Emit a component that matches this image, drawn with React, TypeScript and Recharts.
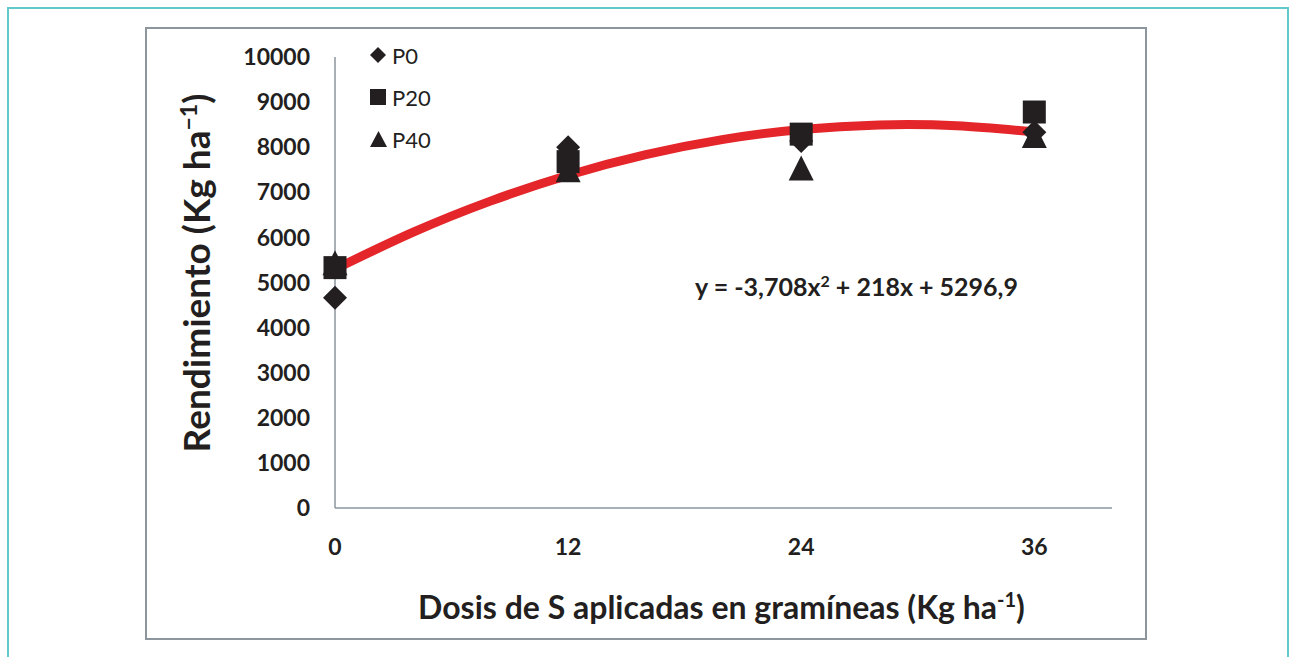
import { Legend, Scatter, ScatterChart, XAxis, YAxis, Label } from "recharts"

// dosis de S (kg/ha)
const doses = [0, 12, 24, 36]
const p0Values = [4660, 8000, 8140, 8330]
const p20Values = [5330, 7680, 8290, 8780]
const p40Values = [5440, 7500, 7540, 8260]

// polynomial trend line
const trendX = [0, 4, 8, 12, 16, 20, 24, 28, 32, 36]
const trendY = [5297, 6110, 6804, 7379, 7836, 8174, 8393, 8494, 8476, 8339]

const yTicks = [0, 1000, 2000, 3000, 4000, 5000, 6000, 7000, 8000, 9000, 10000]
const xTicks = [0, 12, 24, 36]

const seriesNames = ["P0", "P20", "P40"]

const INK = "#231f20"
const RED = "#e4262b"
const AXIS = "#8d969c"
const FONT = "Lato, 'Open Sans', sans-serif"

const toPoints = (vals: number[]) => doses.map((d, i) => ({ x: d, y: vals[i] }))
const trendData = trendX.map((x, i) => ({ x, y: trendY[i] }))

const Diamond = (props: any) => {
  const { cx, cy } = props
  const r = 12
  return <path d={`M${cx},${cy - r}L${cx + r},${cy}L${cx},${cy + r}L${cx - r},${cy}Z`} fill={INK} />
}
const Square = (props: any) => {
  const { cx, cy } = props
  const s = 11.5
  return <rect x={cx - s} y={cy - s} width={s * 2} height={s * 2} fill={INK} />
}
const Triangle = (props: any) => {
  const { cx, cy } = props
  const r = 12.5
  return <path d={`M${cx},${cy - r}L${cx + r},${cy + r}L${cx - r},${cy + r}Z`} fill={INK} />
}
const NoDot = () => <g />

const legendMarker = (name: string) => {
  if (name === "P0") return <path d="M8,0L16,8L8,16L0,8Z" fill={INK} />
  if (name === "P20") return <rect x={0} y={0} width={16} height={16} fill={INK} />
  return <path d="M8.5,0L17,16L0,16Z" fill={INK} />
}

const renderLegend = () => (
  <div style={{ fontFamily: FONT, fontSize: 22, color: INK }}>
    {seriesNames.map((n) => (
      <div key={n} style={{ display: "flex", alignItems: "center", height: 42 }}>
        <svg width={18} height={17} style={{ marginRight: 4 }}>
          {legendMarker(n)}
        </svg>
        <span>{n}</span>
      </div>
    ))}
  </div>
)

const XTitle = (props: any) => {
  const { viewBox } = props
  const cx = viewBox.x + viewBox.width / 2
  return (
    <text x={cx - 2} y={619} textAnchor="middle" fontFamily={FONT} fontWeight="bold" fontSize={32} fill={INK}>
      Dosis de S aplicadas en gramíneas (Kg ha
      <tspan dy={-12} fontSize={20}>-1</tspan>
      <tspan dy={12}>)</tspan>
    </text>
  )
}

const YTitle = () => (
  <text
    x={0}
    y={0}
    transform="translate(210,273) rotate(-90)"
    textAnchor="middle"
    fontFamily={FONT}
    fontWeight="bold"
    fontSize={37}
    fill={INK}
  >
    Rendimiento (Kg ha
    <tspan dy={-13} fontSize={23}>−1</tspan>
    <tspan dy={13}>)</tspan>
  </text>
)

export default function App() {
  return (
    <div style={{ position: "absolute", left: 0, top: 0, width: 1296, height: 657, overflow: "hidden", background: "#fff" }}>
      <div style={{ position: "absolute", left: 7, top: 7, width: 1278, height: 700, border: "2px solid #62c8c9" }} />
      <div style={{ position: "absolute", left: 145, top: 27, width: 998, height: 609, border: `2px solid ${AXIS}` }} />
      <div style={{ position: "absolute", left: 0, top: 0 }}>
        <ScatterChart width={1296} height={657} margin={{ top: 57, right: 184, bottom: 89, left: 255 }}>
          <XAxis
            type="number"
            dataKey="x"
            domain={[0, 40]}
            ticks={xTicks}
            height={60}
            tickLine={false}
            tickSize={0}
            tickMargin={31}
            axisLine={{ stroke: AXIS, strokeWidth: 1.5 }}
            tick={{ fill: INK, fontSize: 23, fontWeight: "bold", fontFamily: FONT }}
          >
            <Label content={<XTitle />} />
          </XAxis>
          <YAxis
            type="number"
            dataKey="y"
            domain={[0, 10000]}
            ticks={yTicks}
            width={80}
            tickLine={false}
            tickSize={0}
            tickMargin={25}
            axisLine={{ stroke: AXIS, strokeWidth: 1.5 }}
            tick={{ fill: INK, fontSize: 23, fontWeight: "bold", fontFamily: FONT }}
          >
            <Label content={<YTitle />} />
          </YAxis>
          <Legend
            layout="vertical"
            align="center"
            verticalAlign="middle"
            content={renderLegend}
            wrapperStyle={{ left: 370, top: 34, width: "auto" }}
          />
          <Scatter
            name="Tendencia"
            data={trendData}
            line={{ stroke: RED, strokeWidth: 9 }}
            lineJointType="natural"
            shape={NoDot}
            legendType="none"
            isAnimationActive={false}
          />
          <Scatter name="P0" data={toPoints(p0Values)} shape={Diamond} isAnimationActive={false} />
          <Scatter name="P40" data={toPoints(p40Values)} shape={Triangle} isAnimationActive={false} />
          <Scatter name="P20" data={toPoints(p20Values)} shape={Square} isAnimationActive={false} />
        </ScatterChart>
      </div>
      <div
        style={{
          position: "absolute",
          left: 695,
          top: 271,
          fontFamily: FONT,
          fontWeight: "bold",
          fontSize: 25,
          color: INK,
          whiteSpace: "nowrap",
        }}
      >
        y = -3,708x<sup style={{ fontSize: 16 }}>2</sup> + 218x + 5296,9
      </div>
    </div>
  )
}
